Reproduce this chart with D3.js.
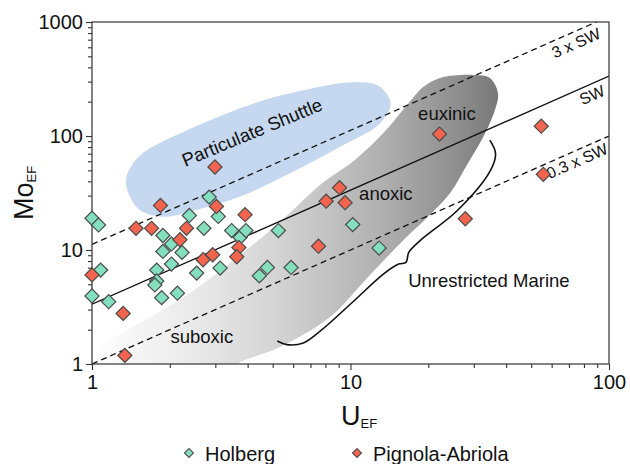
<!DOCTYPE html>
<html>
<head>
<meta charset="utf-8">
<script src="https://cdn.jsdelivr.net/npm/d3@7"></script>
<style>
  html, body { margin: 0; padding: 0; background: #fff; }
  svg { display: block; font-family: "Liberation Sans", Arial, Helvetica, sans-serif; }
</style>
</head>
<body>
<div id="chart"></div>
<script>
// ---------- data ----------
const holberg = [
  [1.0,19.0],[1.06,16.6],[1.08,6.66],[1.0,3.95],[1.16,3.52],[1.88,13.4],[2.03,11.3],
  [1.88,9.72],[2.23,9.53],[2.03,7.53],[1.78,6.66],[1.78,5.36],[1.75,4.94],[1.86,3.82],
  [2.14,4.18],[2.38,20.1],[2.71,15.5],[2.84,29.1],[3.08,19.7],[2.54,6.27],[3.13,6.94],
  [3.47,14.8],[3.74,12.9],[3.94,14.8],[4.44,5.93],[4.77,7.03],[5.26,14.8],[5.89,7.03],
  [10.2,16.7],[12.9,10.4]
];
const pignola = [
  [1.0,6.05],[1.32,2.78],[1.34,1.19],[1.48,15.5],[1.70,15.5],[1.84,24.6],[2.19,12.3],
  [2.32,15.5],[2.69,8.21],[2.93,9.09],[3.03,24.1],[3.91,20.4],[3.70,10.5],[3.63,8.73],
  [2.99,53.5],[9.07,35.2],[8.05,26.8],[9.53,26.0],[7.52,10.8],[22.1,104],[54.7,122],
  [55.7,46.1],[27.8,18.8]
];
const seriesNames = ["Holberg", "Pignola-Abriola"];
const xTicks = [1, 10, 100];
const yTicks = [1, 10, 100, 1000];
// Mo/U ratio lines (Mo = ratio * U)
const refLines = [
  {name: "3 x SW", ratio: 11.2, dashed: true, label: [74.5, 654]},
  {name: "SW", ratio: 3.35, dashed: false, label: [86, 229]},
  {name: "0.3 x SW", ratio: 1.0, dashed: true, label: [75.2, 60.4]}
];
// field outlines in data space (U, Mo)
const shuttleOutline = [
  [1.37,33.6],[1.53,22.4],[1.89,19.6],[2.39,21.7],[3.74,29.4],[5.83,47.1],[9.11,80.6],
  [13.0,129],[14.3,194],[12.8,276],[9.95,295],[6.38,248],[4.34,197],[2.39,115],[1.53,67],[1.36,44]
];
const bandOutline = [
  [37.2,238],[36.2,169],[32.6,98],[28.2,55.7],[24.3,31.6],[19.9,19.5],[16.0,12.2],
  [11.6,5.68],[8.33,2.58],[5.34,1.41],[3.64,1.0],[3.3,0.8],[0.8,0.8],[0.8,1.2],
  [1.0,1.38],[1.53,2.29],[2.39,4.20],[3.74,9.04],[5.34,17.6],[7.62,37.2],[10.4,61.6],
  [13.4,106],[16.2,176],[19.1,269],[22.2,323],[29.8,343],[34.6,323]
];
const braceOutline = [
  [34.6,92.0],[36.4,70.2],[34.8,50.0],[25.9,22.2],[18.6,12.1],[16.8,9.52],[16.4,7.78],
  [15.35,7.52],[13.4,6.14],[10.3,3.57],[7.63,1.94],[6.57,1.53],[5.67,1.48],[5.21,1.59]
];
const zoneLabels = [
  {text: "euxinic", at: [23.6, 159]},
  {text: "anoxic", at: [13.7, 31.6]},
  {text: "suboxic", at: [2.66, 1.73]},
  {text: "Unrestricted Marine", at: [34.3, 5.35]}
];
const shuttleLabel = {text: "Particulate Shuttle", at: [4.16, 108], angle: -22.5};

// ---------- layout ----------
const W = 630, H = 464;
const L = 92, R = 609, T = 22, B = 364;
const colors = {Holberg: "#84dfbf", "Pignola-Abriola": "#f2644e"};

const x = d3.scaleLog().domain([1, 100]).range([L, R]);
const y = d3.scaleLog().domain([1, 1000]).range([B, T]);

const svg = d3.select("#chart").append("svg").attr("width", W).attr("height", H);
const defs = svg.append("defs");
defs.append("clipPath").attr("id", "plotclip")
  .append("rect").attr("x", L).attr("y", T).attr("width", R - L).attr("height", B - T);
const grad = defs.append("linearGradient").attr("id", "bandgrad")
  .attr("gradientUnits", "userSpaceOnUse")
  .attr("x1", x(1)).attr("x2", x(37)).attr("y1", 0).attr("y2", 0);
[[0, "#ffffff"], [0.265, "#e8e8e8"], [0.46, "#d3d3d3"], [0.706, "#b1b1b1"], [0.9, "#8f8f8f"], [1, "#787878"]]
  .forEach(s => grad.append("stop").attr("offset", s[0]).attr("stop-color", s[1]));

const plot = svg.append("g").attr("clip-path", "url(#plotclip)");
const closed = d3.line().x(d => x(d[0])).y(d => y(d[1])).curve(d3.curveCatmullRomClosed.alpha(0.5));

plot.append("path").attr("d", closed(shuttleOutline)).attr("fill", "#c5d8ef");
plot.append("path").attr("d", closed(bandOutline)).attr("fill", "url(#bandgrad)");

refLines.forEach(l => {
  plot.append("line")
    .attr("x1", x(1)).attr("y1", y(l.ratio * 1))
    .attr("x2", x(100)).attr("y2", y(l.ratio * 100))
    .attr("stroke", "#111").attr("stroke-width", 1.3)
    .attr("stroke-dasharray", l.dashed ? "6,4" : null);
});

// frame
svg.append("rect").attr("x", L).attr("y", T).attr("width", R - L).attr("height", B - T)
  .attr("fill", "none").attr("stroke", "#333").attr("stroke-width", 1.2);

// axes
const minorX = [], minorY = [];
[1, 10].forEach(d => { for (let k = 2; k <= 9; k++) minorX.push(k * d); });
[1, 10, 100].forEach(d => { for (let k = 2; k <= 9; k++) minorY.push(k * d); });

function styleAxis(g) {
  g.select(".domain").remove();
  g.selectAll("line").attr("stroke", "#333").attr("stroke-width", 1.1);
  g.selectAll("text").attr("fill", "#111").style("font-size", "20px")
    .style("font-family", '"Liberation Sans", Arial, sans-serif');
}
svg.append("g").attr("transform", `translate(0,${B})`)
  .call(d3.axisBottom(x).tickValues(xTicks).tickFormat(d3.format("d")).tickSize(6).tickPadding(5))
  .call(styleAxis);
svg.append("g").attr("transform", `translate(0,${B})`)
  .call(d3.axisBottom(x).tickValues(minorX).tickFormat("").tickSize(4))
  .call(styleAxis);
svg.append("g").attr("transform", `translate(${L},0)`)
  .call(d3.axisLeft(y).tickValues(yTicks).tickFormat(d3.format("d")).tickSize(6).tickPadding(3))
  .call(styleAxis);
svg.append("g").attr("transform", `translate(${L},0)`)
  .call(d3.axisLeft(y).tickValues(minorY).tickFormat("").tickSize(4))
  .call(styleAxis);

// axis titles
const xt = svg.append("text").attr("x", 341).attr("y", 425).attr("fill", "#111");
xt.append("tspan").text("U").style("font-size", "27px");
xt.append("tspan").text("EF").attr("dy", 3).style("font-size", "13px");
const yt = svg.append("text").attr("transform", "translate(33,220) rotate(-90)").attr("fill", "#111");
yt.append("tspan").text("Mo").style("font-size", "27px");
yt.append("tspan").text("EF").attr("dy", 3).style("font-size", "13px");

// brace
svg.append("path")
  .attr("d", d3.line().x(d => x(d[0])).y(d => y(d[1])).curve(d3.curveCatmullRom.alpha(0.5))(braceOutline))
  .attr("fill", "none").attr("stroke", "#111").attr("stroke-width", 1.6);

// line labels
const lineAngle = Math.atan2(y(10) - y(1), x(10) - x(1)) * 180 / Math.PI;
refLines.forEach(l => {
  svg.append("text")
    .attr("transform", `translate(${x(l.label[0])},${y(l.label[1])}) rotate(${lineAngle})`)
    .attr("text-anchor", "middle").attr("dy", "0.35em")
    .style("font-size", "16px").attr("fill", "#111").text(l.name);
});

// zone labels
zoneLabels.forEach(z => {
  svg.append("text").attr("x", x(z.at[0])).attr("y", y(z.at[1]))
    .attr("text-anchor", "middle").attr("dy", "0.35em")
    .style("font-size", "18.5px").attr("fill", "#111").text(z.text);
});
svg.append("text")
  .attr("transform", `translate(${x(shuttleLabel.at[0])},${y(shuttleLabel.at[1])}) rotate(${shuttleLabel.angle})`)
  .attr("text-anchor", "middle").attr("dy", "0.35em")
  .style("font-size", "18.5px").attr("fill", "#111").text(shuttleLabel.text);

// markers
const diamond = d3.symbol().type(d3.symbolSquare).size(100);
function drawSeries(data, name) {
  svg.append("g").selectAll("path").data(data).join("path")
    .attr("d", diamond)
    .attr("transform", d => `translate(${x(d[0])},${y(d[1])}) rotate(45)`)
    .attr("fill", colors[name]).attr("stroke", "#4a4a4a").attr("stroke-width", 1.2);
}
drawSeries(holberg, "Holberg");
drawSeries(pignola, "Pignola-Abriola");

// legend
const legendPos = [[189, 205], [357, 373]];
const smallDiamond = d3.symbol().type(d3.symbolSquare).size(40);
seriesNames.forEach((n, i) => {
  svg.append("path").attr("d", smallDiamond)
    .attr("transform", `translate(${legendPos[i][0]},453) rotate(45)`)
    .attr("fill", colors[n]).attr("stroke", "#4a4a4a").attr("stroke-width", 1.1);
  svg.append("text").attr("x", legendPos[i][1]).attr("y", 461)
    .style("font-size", "20px").attr("fill", "#111").text(n);
});
</script>
</body>
</html>
